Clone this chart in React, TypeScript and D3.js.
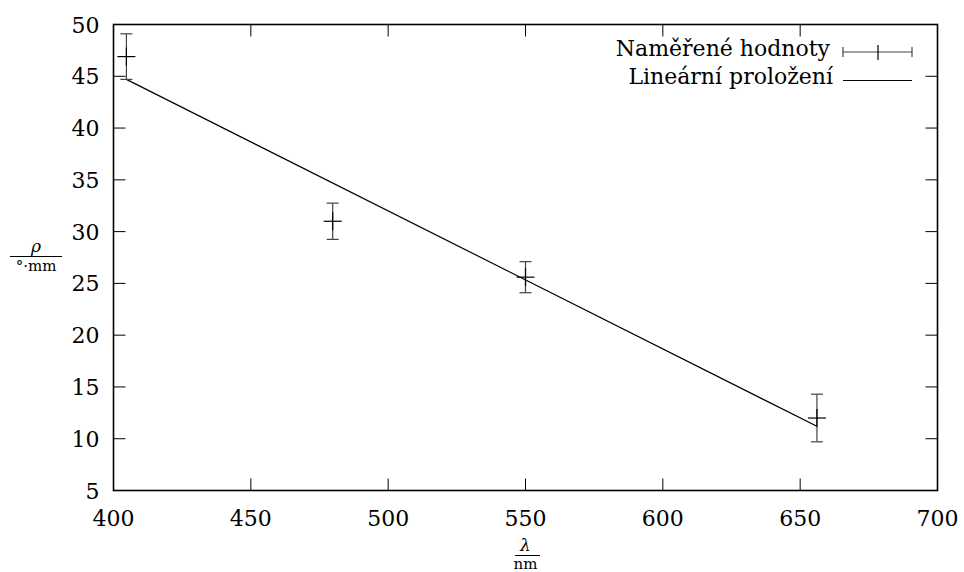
import React from 'react';
import * as d3 from 'd3';

// measured values: wavelength [nm], rotation [deg/mm], error
const wavelength = [404.7, 479.8, 550.0, 656.1];
const rho = [46.9, 31.0, 25.6, 12.0];
const rhoErr = [2.2, 1.75, 1.5, 2.3];

// linear fit drawn between first and last wavelength
const fitX = [404.7, 656.1];
const fitY = [44.7, 11.2];

const xTicks = [400, 450, 500, 550, 600, 650, 700];
const yTicks = [5, 10, 15, 20, 25, 30, 35, 40, 45, 50];

const legendLabels = ['Naměřené hodnoty', 'Lineární proložení'];

const W = 964;
const H = 572;
const margin = { top: 24.5, right: 26.5, bottom: 81.5, left: 113.5 };
const font = "'DejaVu Serif', 'Liberation Serif', serif";

const App = () => {
  const innerW = W - margin.left - margin.right;
  const innerH = H - margin.top - margin.bottom;

  const x = d3.scaleLinear().domain([400, 700]).range([margin.left, margin.left + innerW]);
  const y = d3.scaleLinear().domain([5, 50]).range([margin.top + innerH, margin.top]);

  const fitLine = d3.line<number>()
    .x(d => x(fitX[d]))
    .y(d => y(fitY[d]));

  const tickLen = 12;
  const cap = 6;
  const arm = 9;
  const left = x(400), right = x(700), top = y(50), bottom = y(5);

  return (
    <svg width={W} height={H} style={{ position: 'absolute', left: 0, top: 0, background: '#fff', fontFamily: font }}>
      {/* ticks, mirrored on all sides */}
      <g stroke="#000" strokeWidth={1}>
        {xTicks.slice(1, -1).map(t => (
          <g key={'xt' + t}>
            <line x1={x(t)} x2={x(t)} y1={bottom} y2={bottom - tickLen} />
            <line x1={x(t)} x2={x(t)} y1={top} y2={top + tickLen} />
          </g>
        ))}
        {yTicks.slice(1, -1).map(t => (
          <g key={'yt' + t}>
            <line x1={left} x2={left + tickLen} y1={y(t)} y2={y(t)} />
            <line x1={right} x2={right - tickLen} y1={y(t)} y2={y(t)} />
          </g>
        ))}
      </g>

      {/* tick labels */}
      <g fontSize={22} fill="#000">
        {xTicks.map(t => (
          <text key={'xl' + t} x={x(t)} y={bottom + 35} textAnchor="middle">{t}</text>
        ))}
        {yTicks.map(t => (
          <text key={'yl' + t} x={left - 14} y={y(t) + 8} textAnchor="end">{t}</text>
        ))}
      </g>

      {/* linear fit */}
      <path d={fitLine([0, 1]) || ''} fill="none" stroke="#000" strokeWidth={1.2} />

      {/* measured points with error bars */}
      <g strokeWidth={1.2}>
        {wavelength.map((w, i) => {
          const cx = x(w), cy = y(rho[i]);
          const y0 = y(rho[i] - rhoErr[i]), y1 = y(rho[i] + rhoErr[i]);
          return (
            <g key={'p' + i}>
              <line x1={cx} x2={cx} y1={y0} y2={y1} stroke="#444" />
              <line x1={cx - cap} x2={cx + cap} y1={y0} y2={y0} stroke="#444" />
              <line x1={cx - cap} x2={cx + cap} y1={y1} y2={y1} stroke="#444" />
              <line x1={cx - arm} x2={cx + arm} y1={cy} y2={cy} stroke="#000" />
              <line x1={cx} x2={cx} y1={cy - arm} y2={cy + arm} stroke="#000" />
            </g>
          );
        })}
      </g>

      {/* legend */}
      <g fontSize={22} fill="#000">
        <text x={830} y={56} textAnchor="end">{legendLabels[0]}</text>
        <text x={833} y={84} textAnchor="end">{legendLabels[1]}</text>
        <g stroke="#000" strokeWidth={1.2}>
          <line x1={843} x2={912} y1={52} y2={52} stroke="#444" />
          <line x1={843} x2={843} y1={47} y2={57} stroke="#444" />
          <line x1={912} x2={912} y1={47} y2={57} stroke="#444" />
          <line x1={878} x2={878} y1={45} y2={60} />
          <line x1={843} x2={912} y1={80.5} y2={80.5} />
        </g>
      </g>

      {/* frame */}
      <rect x={left} y={top} width={right - left} height={bottom - top} fill="none" stroke="#000" strokeWidth={1.6} />

      {/* x axis label: lambda / nm */}
      <g fill="#000" textAnchor="middle">
        <text x={(left + right) / 2} y={551} fontSize={17} fontStyle="italic">λ</text>
        <line x1={515} x2={540} y1={555.5} y2={555.5} stroke="#000" strokeWidth={1} />
        <text x={(left + right) / 2} y={569} fontSize={15}>nm</text>
      </g>

      {/* y axis label: rho / deg mm */}
      <g fill="#000" textAnchor="middle">
        <text x={36} y={252} fontSize={17} fontStyle="italic">ρ</text>
        <line x1={10} x2={62} y1={256.5} y2={256.5} stroke="#000" strokeWidth={1} />
        <text x={36} y={271} fontSize={15}>°·mm</text>
      </g>
    </svg>
  );
};

export default App;
